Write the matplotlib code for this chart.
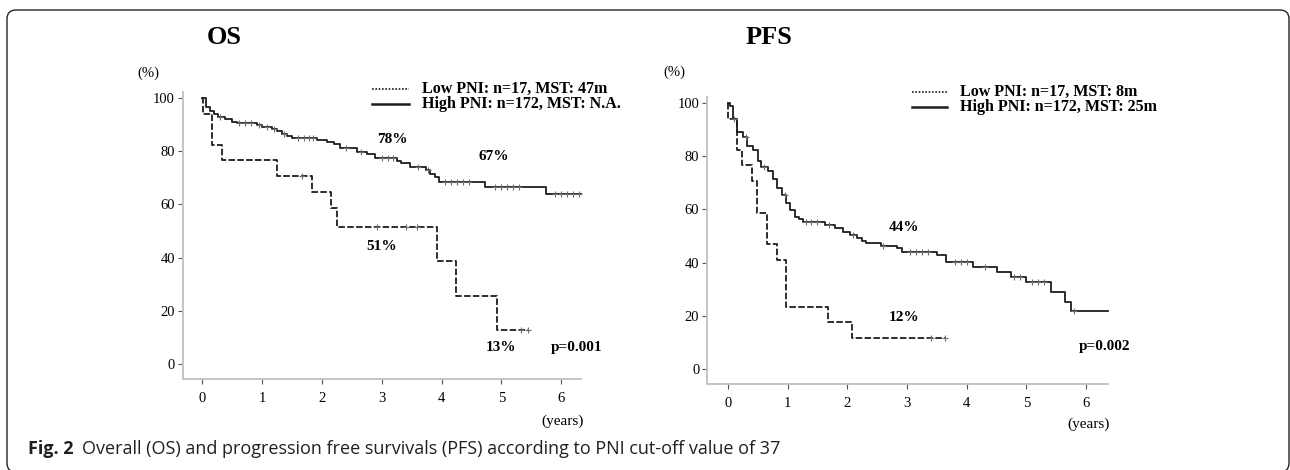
import numpy as np
import matplotlib.pyplot as plt
from matplotlib.patches import FancyBboxPatch

W, H = 1290, 470

# ---- data (years, survival %) ----
os_low_t = [0, 0.01, 0.16, 0.33, 1.25, 1.83, 2.16, 2.25, 3.92, 4.24, 4.92, 5.44]
os_low_s = [100, 94.1, 82.4, 76.5, 70.6, 64.7, 58.8, 51.4, 38.6, 25.7, 12.9, 12.9]
os_low_cens = [1.67, 2.92, 3.41, 3.59, 5.32, 5.44]

os_high_t = [0, 0.056, 0.134, 0.19, 0.256, 0.384, 0.496, 0.58, 0.91, 1.0, 1.16,
             1.25, 1.33, 1.41, 1.5, 1.91, 2.08, 2.2, 2.31, 2.58, 2.75, 2.89, 3.25,
             3.33, 3.47, 3.74, 3.81, 3.89, 3.95, 4.73, 5.74, 6.33]
os_high_s = [100, 96.6, 95.0, 94.1, 92.9, 91.9, 91.0, 90.4, 89.8, 89.0, 88.3,
             87.5, 86.6, 85.7, 85.0, 84.1, 83.3, 82.5, 81.0, 79.7, 78.8, 77.6, 76.4,
             75.4, 74.1, 72.9, 71.6, 70.4, 68.5, 66.6, 63.9, 63.9]
os_high_cens = [0.3, 0.62, 0.72, 0.82, 0.95, 1.08, 1.2, 1.37, 1.6, 1.7, 1.78, 1.85,
                2.4, 2.65, 3.0, 3.1, 3.18, 3.6, 3.78, 4.05, 4.15, 4.25, 4.35, 4.45,
                4.9, 5.0, 5.1, 5.2, 5.3, 5.9, 6.0, 6.1, 6.2, 6.3]

pfs_low_t = [0, 0.01, 0.145, 0.23, 0.40, 0.48, 0.66, 0.83, 0.98, 1.67, 2.08, 3.63]
pfs_low_s = [100, 94.1, 82.4, 76.5, 70.6, 58.8, 47.1, 41.2, 23.5, 17.6, 11.8, 11.8]
pfs_low_cens = [3.4, 3.63]

pfs_high_t = [0, 0.03, 0.08, 0.145, 0.26, 0.32, 0.42, 0.51, 0.56, 0.68, 0.76, 0.83,
              0.90, 0.98, 1.04, 1.12, 1.19, 1.26, 1.63, 1.79, 1.93, 2.04, 2.16, 2.24,
              2.32, 2.57, 2.83, 2.91, 3.50, 3.66, 4.10, 4.50, 4.75, 4.99, 5.41, 5.65,
              5.75, 6.36]
pfs_high_s = [100, 98.8, 94.1, 89.1, 87.2, 83.8, 82.3, 78.2, 75.8, 74.5, 71.6, 67.9,
              65.4, 62.3, 59.8, 57.2, 56.3, 55.4, 54.1, 52.9, 51.6, 50.4, 49.1, 48.1,
              47.5, 46.2, 45.4, 44.1, 42.9, 40.1, 38.5, 36.6, 34.6, 32.9, 29.1, 25.4,
              21.9, 21.9]
pfs_high_cens = [0.1, 0.3, 0.6, 0.95, 1.3, 1.4, 1.5, 1.7, 2.1, 2.6, 3.05, 3.15, 3.25,
                 3.35, 3.8, 3.9, 4.0, 4.3, 4.8, 4.9, 5.1, 5.2, 5.3, 5.8]

panels = [
    dict(title="OS", low=(os_low_t, os_low_s, os_low_cens),
         high=(os_high_t, os_high_s, os_high_cens),
         legend=["Low PNI: n=17, MST: 47m", "High PNI: n=172, MST: N.A."],
         notes=[("78%", 3.17, 84.5), ("67%", 4.87, 78.1), ("51%", 2.99, 44.4),
                ("13%", 4.99, 6.5), ("p=0.001", 6.26, 6.5)],
         box=(182.5, 581, 91.7, 379), xlim=(-0.33, 6.33),
         title_xy=(224, 38), pct_xy=(148, 73), years_xy=(563, 421),
         leg=(2.84, 3.46, 3.67, 103.5, 97.5)),
    dict(title="PFS", low=(pfs_low_t, pfs_low_s, pfs_low_cens),
         high=(pfs_high_t, pfs_high_s, pfs_high_cens),
         legend=["Low PNI: n=17, MST: 8m", "High PNI: n=172, MST: 25m"],
         notes=[("44%", 2.95, 53.4), ("12%", 2.95, 19.6), ("p=0.002", 6.31, 8.4)],
         box=(707, 1107.6, 96.7, 384), xlim=(-0.35, 6.36),
         title_xy=(769, 37), pct_xy=(674, 72), years_xy=(1089, 424),
         leg=(3.08, 3.67, 3.88, 104.0, 98.5)),
]

SERIF = "Liberation Serif"
LINE = "#1e1e1e"

fig = plt.figure(figsize=(W / 100, H / 100), dpi=100)


def fx(px):
    return px / W


def fy(py):
    return 1 - py / H


def step_value(t, s, x):
    i = np.searchsorted(t, x, side="right") - 1
    return np.asarray(s)[i]


for p in panels:
    l, r, t, b = p["box"]
    ax = fig.add_axes([fx(l), fy(b), fx(r) - fx(l), fy(t) - fy(b)])
    ax.set_xlim(*p["xlim"])
    ax.set_ylim(-5.5, 102.3)

    for (tt, ss, cc), ls in [(p["low"], (0, (3.6, 1.3))), (p["high"], "-")]:
        ax.step(tt, ss, where="post", color=LINE, lw=1.3, linestyle=ls,
                clip_on=False)
        ax.plot(cc, step_value(tt, ss, cc), linestyle="none", marker="+",
                ms=5, mew=0.8, color="#6e6e6e", clip_on=False, zorder=3)

    for side in ["top", "right"]:
        ax.spines[side].set_visible(False)
    for side in ["left", "bottom"]:
        ax.spines[side].set_color("#c4c4c4")
        ax.spines[side].set_linewidth(1.4)
    ax.set_xticks(range(0, 7))
    ax.set_yticks(range(0, 101, 20))
    ax.tick_params(axis="both", length=3.5, width=0.8, color="#555555",
                   labelsize=10.5)
    ax.tick_params(axis="x", pad=6)
    ax.tick_params(axis="y", pad=2)
    for lab in ax.get_xticklabels() + ax.get_yticklabels():
        lab.set_fontfamily(SERIF)

    # legend drawn by hand: dotted sample for Low PNI, solid for High PNI
    x0, x1, xt, y1, y2 = p["leg"]
    ax.plot([x0, x1], [y1, y1], color=LINE, lw=1.2, linestyle=(0, (1, 1)),
            clip_on=False)
    ax.plot([x0, x1], [y2, y2], color=LINE, lw=1.8, clip_on=False)
    ax.text(xt, y1, p["legend"][0], family=SERIF, weight="bold", fontsize=11.5,
            va="center", ha="left")
    ax.text(xt, y2, p["legend"][1], family=SERIF, weight="bold", fontsize=11.5,
            va="center", ha="left")

    for txt, x, y in p["notes"]:
        ax.text(x, y, txt, family=SERIF, weight="bold", fontsize=11,
                ha="center", va="center")

    fig.text(fx(p["title_xy"][0]), fy(p["title_xy"][1]), p["title"],
             family=SERIF, weight="bold", fontsize=19, ha="center", va="center")
    fig.text(fx(p["pct_xy"][0]), fy(p["pct_xy"][1]), "(%)", family=SERIF,
             fontsize=10.5, ha="center", va="center")
    fig.text(fx(p["years_xy"][0]), fy(p["years_xy"][1]), "(years)",
             family=SERIF, fontsize=11, ha="center", va="center")

# caption
cap = fig.text(fx(28), fy(449), "Fig. 2", family="Open Sans", weight="bold",
               fontsize=13, ha="left", va="center", color="#231f20")
fig.canvas.draw()
bb = cap.get_window_extent()
fig.text((bb.x1 + 8) / W, fy(449),
         "Overall (OS) and progression free survivals (PFS) according to PNI "
         "cut-off value of 37",
         family="Open Sans", fontsize=13, ha="left", va="center",
         color="#231f20")

# rounded frame round the whole figure (inch coordinates keep the corners round)
frame = FancyBboxPatch((0.07, H / 100 - 4.72), 12.82, 4.62,
                       boxstyle="round,pad=0,rounding_size=0.09",
                       transform=fig.dpi_scale_trans, fill=False,
                       edgecolor="#222222", lw=1.0)
fig.patches.append(frame)

fig.savefig("out.png", dpi=100)
